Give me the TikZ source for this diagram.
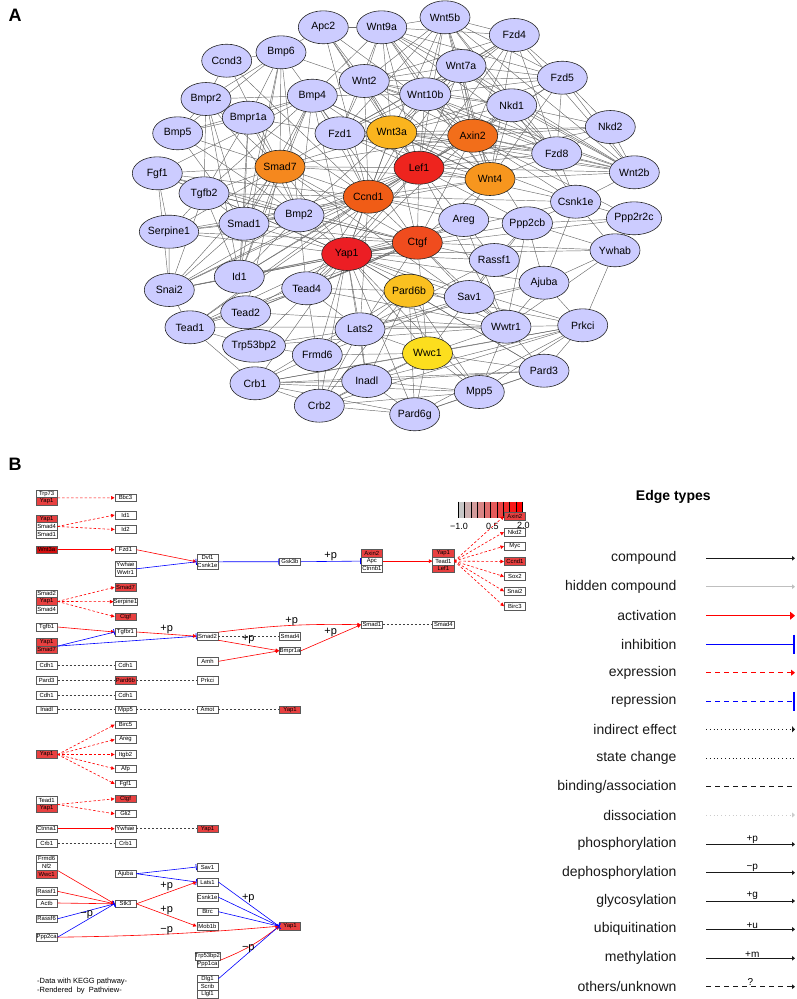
\documentclass[tikz,border=0pt]{standalone}
\usepackage{fontspec}
\setmainfont{Liberation Sans}
\usetikzlibrary{shapes.geometric,arrows.meta,backgrounds,calc}
\definecolor{lav}{RGB}{204,204,255}
\definecolor{cLef}{RGB}{238,36,30}
\definecolor{cYap}{RGB}{236,30,36}
\definecolor{cCtgf}{RGB}{240,76,30}
\definecolor{cCcnd}{RGB}{240,92,22}
\definecolor{cAxin}{RGB}{242,110,26}
\definecolor{cSmad}{RGB}{245,136,30}
\definecolor{cWntF}{RGB}{247,150,30}
\definecolor{cWntA}{RGB}{250,180,30}
\definecolor{cPard}{RGB}{250,192,32}
\definecolor{cWwc}{RGB}{252,222,30}
\definecolor{kred}{RGB}{232,64,64}
\definecolor{kdred}{RGB}{212,16,16}
\definecolor{kblue}{RGB}{0,0,255}
\colorlet{lowc}{black!22}
\tikzset{
 anode/.style={ellipse, draw=black!85, line width=0.6pt, minimum width=50pt, minimum height=33pt, inner sep=0pt, font=\fontsize{10.5}{12}\selectfont},
 aedge/.style={draw=black!58, line width=0.45pt},
 kb/.style={rectangle, draw=black!65, line width=0.5pt, fill=white, minimum width=21.3pt, minimum height=7.6pt, inner sep=0pt, font=\fontsize{5.9}{5.9}\selectfont},
 kr/.style={kb, fill=kred},
 kact/.style={draw=red, line width=0.6pt, -{Triangle[length=3.5pt,width=3.5pt]}},
 kexp/.style={kact, dash pattern=on 2.5pt off 2pt},
 kinh/.style={draw=kblue, line width=0.6pt, -{Bar[width=6pt,line width=0.8pt]}},
 kbind/.style={draw=black!75, line width=0.6pt, dash pattern=on 2pt off 2pt},
 plab/.style={font=\fontsize{11}{11}\selectfont, inner sep=0pt},
 legtext/.style={anchor=east, font=\fontsize{14}{14}\selectfont, text=black!90, inner sep=0pt},
 leglab/.style={font=\fontsize{10}{10}\selectfont, inner sep=0pt},
 panlab/.style={font=\bfseries\fontsize{18}{18}\selectfont, inner sep=0pt}
}
\begin{document}
\begin{tikzpicture}[x=1pt,y=-1pt]
\useasboundingbox (0,0) rectangle (796,999);
\node[panlab] (labA) at (15,15) {A};
\node[panlab] (labB) at (15,464) {B};
% ---------------- Panel A nodes
\foreach \n/\x/\y/\c in {
Apc2/323.3/27.3/lav, Wnt9a/381.7/27.3/lav, Wnt5b/445/17.3/lav, Ccnd3/226.7/60.7/lav,
Bmp6/281/52.3/lav, Fzd4/514.3/35/lav, Wnt7a/461/66/lav, Fzd5/562.3/77.7/lav,
Wnt2/364.3/81/lav, Wnt10b/425.3/94.3/lav, Nkd1/511.7/105.3/lav, Bmpr2/206/99/lav,
Bmp4/312.3/95.7/lav, Bmpr1a/248.3/117.7/lav, Nkd2/610.3/127/lav, Bmp5/177.7/133.3/lav,
Fzd1/340/133.3/lav, Wnt3a/391.7/132.3/cWntA, Axin2/472.7/135.7/cAxin, Fzd8/556.7/153.3/lav,
Wnt2b/634.3/172.3/lav, Smad7/280/166.7/cSmad, Lef1/419/167.7/cLef, Wnt4/490/179/cWntF,
Fgf1/157.3/173.3/lav, Tgfb2/204/193.3/lav, Ccnd1/368.3/196.7/cCcnd, Csnk1e/575.7/201.7/lav,
Ppp2r2c/634/218.3/lav, Bmp2/299/215.3/lav, Smad1/244/223.7/lav, Areg/463.7/220/lav,
Ppp2cb/527.3/223.3/lav, Serpine1/169/231.7/lav, Ctgf/417.3/242.7/cCtgf, Yap1/346.7/254/cYap,
Rassf1/494.3/260/lav, Ywhab/615/250.3/lav, Id1/239.3/276.7/lav, Snai2/169.3/290/lav,
Tead4/306.7/288.3/lav, Pard6b/409/290.7/cPard, Ajuba/544/282.7/lav, Sav1/469.3/297/lav,
Tead2/245.7/312.3/lav, Tead1/190/327.3/lav, Lats2/360/329.3/lav, Trp53bp2/254/345.7/lav,
Frmd6/317.3/355/lav, Wwc1/427.5/353.3/cWwc, Wwtr1/506/326.7/lav, Prkci/582.7/325.3/lav,
Crb1/255/383.3/lav, Inadl/366.7/381/lav, Pard3/544/370.7/lav, Crb2/319.3/405.7/lav,
Mpp5/479.3/392/lav, Pard6g/414.7/414.3/lav}
 \node[anode, fill=\c] (a-\n) at (\x,\y) {\n};
\begin{pgfonlayer}{background}
\foreach \u/\v in {
Yap1/Ctgf, Yap1/Tead1, Yap1/Tead2, Yap1/Tead4, Yap1/Lats2, Yap1/Sav1, Yap1/Wwtr1, Yap1/Wwc1, Yap1/Frmd6, Yap1/Ajuba, Yap1/Rassf1, Yap1/Ppp2cb, Yap1/Ywhab, Yap1/Prkci, Yap1/Pard3, Yap1/Pard6b, Yap1/Pard6g, Yap1/Mpp5, Yap1/Inadl, Yap1/Crb1, Yap1/Crb2, Yap1/Trp53bp2, Yap1/Areg, Yap1/Smad7, Yap1/Smad1, Yap1/Id1, Yap1/Snai2, Yap1/Ccnd1, Yap1/Lef1, Yap1/Axin2, Yap1/Wnt3a, Yap1/Bmp2, Yap1/Bmp4, Yap1/Csnk1e, Yap1/Serpine1, Yap1/Tgfb2, Yap1/Fgf1, Yap1/Ppp2r2c,
Ctgf/Tead1, Ctgf/Tead2, Ctgf/Tead4, Ctgf/Wwtr1, Ctgf/Smad7, Ctgf/Smad1, Ctgf/Serpine1, Ctgf/Tgfb2, Ctgf/Bmp2, Ctgf/Bmp4, Ctgf/Ccnd1, Ctgf/Lef1, Ctgf/Wnt3a, Ctgf/Id1, Ctgf/Snai2, Ctgf/Areg, Ctgf/Fgf1, Ctgf/Lats2, Ctgf/Sav1, Ctgf/Wwc1, Ctgf/Axin2, Ctgf/Wnt4, Ctgf/Ywhab, Ctgf/Rassf1,
Lef1/Wnt3a, Lef1/Wnt2, Lef1/Wnt10b, Lef1/Wnt7a, Lef1/Wnt5b, Lef1/Wnt9a, Lef1/Wnt4, Lef1/Wnt2b, Lef1/Fzd1, Lef1/Fzd4, Lef1/Fzd5, Lef1/Fzd8, Lef1/Axin2, Lef1/Apc2, Lef1/Nkd1, Lef1/Nkd2, Lef1/Ccnd1, Lef1/Csnk1e, Lef1/Smad7, Lef1/Smad1, Lef1/Bmp4, Lef1/Bmp2, Lef1/Snai2, Lef1/Id1, Lef1/Tead1, Lef1/Tead4, Lef1/Wwtr1, Lef1/Areg, Lef1/Ppp2cb,
Ccnd1/Wnt3a, Ccnd1/Axin2, Ccnd1/Wnt4, Ccnd1/Fzd1, Ccnd1/Bmp2, Ccnd1/Bmp4, Ccnd1/Smad7, Ccnd1/Smad1, Ccnd1/Tgfb2, Ccnd1/Fgf1, Ccnd1/Id1, Ccnd1/Snai2, Ccnd1/Serpine1, Ccnd1/Areg, Ccnd1/Wnt2, Ccnd1/Wnt10b, Ccnd1/Csnk1e, Ccnd1/Apc2, Ccnd1/Ccnd3, Ccnd1/Tead1, Ccnd1/Tead4, Ccnd1/Lats2, Ccnd1/Ppp2cb, Ccnd1/Bmpr1a, Ccnd1/Wnt7a,
Axin2/Wnt3a, Axin2/Wnt2, Axin2/Wnt10b, Axin2/Wnt7a, Axin2/Wnt5b, Axin2/Wnt9a, Axin2/Wnt4, Axin2/Wnt2b, Axin2/Fzd1, Axin2/Fzd4, Axin2/Fzd5, Axin2/Fzd8, Axin2/Apc2, Axin2/Nkd1, Axin2/Nkd2, Axin2/Csnk1e, Axin2/Ppp2cb, Axin2/Ppp2r2c, Axin2/Smad7,
Wnt3a/Wnt2, Wnt3a/Wnt10b, Wnt3a/Wnt7a, Wnt3a/Wnt5b, Wnt3a/Wnt9a, Wnt3a/Wnt4, Wnt3a/Wnt2b, Wnt3a/Fzd1, Wnt3a/Fzd4, Wnt3a/Fzd5, Wnt3a/Fzd8, Wnt3a/Nkd1, Wnt3a/Nkd2, Wnt3a/Apc2, Wnt3a/Bmp4, Wnt3a/Bmp2, Wnt3a/Smad7, Wnt3a/Csnk1e,
Wnt4/Wnt2, Wnt4/Wnt10b, Wnt4/Wnt7a, Wnt4/Wnt5b, Wnt4/Wnt9a, Wnt4/Wnt2b, Wnt4/Fzd1, Wnt4/Fzd4, Wnt4/Fzd5, Wnt4/Fzd8, Wnt4/Nkd1, Wnt4/Bmp4, Wnt4/Bmp2, Wnt4/Areg, Wnt4/Smad7,
Smad7/Smad1, Smad7/Bmpr1a, Smad7/Bmpr2, Smad7/Bmp4, Smad7/Bmp2, Smad7/Bmp6, Smad7/Bmp5, Smad7/Tgfb2, Smad7/Serpine1, Smad7/Id1, Smad7/Snai2, Smad7/Fgf1, Smad7/Wwtr1, Smad7/Ccnd3, Smad7/Fzd1, Smad7/Tead2,
Wnt2/Wnt10b, Wnt2/Wnt7a, Wnt2/Wnt5b, Wnt2/Wnt9a, Wnt2/Fzd1, Wnt2/Fzd4, Wnt2/Fzd5, Wnt2/Fzd8, Wnt2/Wnt2b, Wnt2/Nkd1, Wnt10b/Wnt7a, Wnt10b/Wnt5b, Wnt10b/Wnt9a, Wnt10b/Fzd1, Wnt10b/Fzd4, Wnt10b/Fzd5, Wnt10b/Fzd8, Wnt10b/Wnt2b, Wnt10b/Nkd1, Wnt7a/Wnt5b, Wnt7a/Wnt9a, Wnt7a/Fzd1, Wnt7a/Fzd4, Wnt7a/Fzd5, Wnt7a/Fzd8, Wnt7a/Wnt2b, Wnt7a/Nkd1, Wnt5b/Wnt9a, Wnt5b/Fzd1, Wnt5b/Fzd4, Wnt5b/Fzd5, Wnt5b/Fzd8, Wnt5b/Wnt2b, Wnt5b/Nkd1, Wnt9a/Fzd1, Wnt9a/Fzd4, Wnt9a/Fzd5, Wnt9a/Fzd8, Wnt9a/Wnt2b, Wnt2b/Fzd1, Wnt2b/Fzd4, Wnt2b/Fzd5, Wnt2b/Fzd8, Wnt2b/Nkd1, Wnt2b/Nkd2, Fzd1/Fzd4, Fzd1/Fzd8, Fzd4/Fzd5, Fzd5/Fzd8, Nkd1/Fzd8, Nkd2/Fzd5, Nkd2/Fzd8, Nkd1/Nkd2, Apc2/Wnt9a, Apc2/Wnt2, Apc2/Bmp6, Csnk1e/Nkd1, Csnk1e/Fzd8, Csnk1e/Wnt2b, Csnk1e/Ppp2cb, Csnk1e/Ppp2r2c, Csnk1e/Ywhab, Csnk1e/Ajuba, Wnt2/Bmp4, Wnt2/Bmp6, Bmp4/Wnt10b, Bmp4/Wnt9a, Fzd1/Bmpr1a, Fzd8/Fzd4,
Bmp4/Bmp6, Bmp4/Bmp2, Bmp4/Bmp5, Bmp4/Bmpr2, Bmp4/Bmpr1a, Bmp4/Smad1, Bmp4/Id1, Bmp4/Fgf1, Bmp4/Tgfb2, Bmp4/Fzd1, Bmp6/Bmpr2, Bmp6/Bmpr1a, Bmp6/Bmp2, Bmp6/Smad1, Bmp6/Bmp5, Bmp6/Ccnd3, Bmp6/Id1, Bmp2/Bmpr2, Bmp2/Bmpr1a, Bmp2/Smad1, Bmp2/Id1, Bmp2/Bmp5, Bmp2/Tgfb2, Bmp2/Fgf1, Bmp2/Snai2, Bmp2/Serpine1, Bmp5/Bmpr2, Bmp5/Bmpr1a, Bmp5/Smad1, Bmpr2/Bmpr1a, Bmpr2/Smad1, Bmpr2/Tgfb2, Bmpr2/Id1, Bmpr1a/Smad1, Bmpr1a/Tgfb2, Bmpr1a/Id1, Smad1/Id1, Smad1/Tgfb2, Smad1/Serpine1, Smad1/Snai2, Tgfb2/Serpine1, Tgfb2/Snai2, Tgfb2/Fgf1, Tgfb2/Id1, Fgf1/Serpine1, Fgf1/Snai2, Serpine1/Snai2, Id1/Snai2, Ccnd3/Bmpr2, Bmp2/Tead4,
Tead1/Tead2, Tead1/Tead4, Tead2/Tead4, Tead1/Wwtr1, Tead2/Wwtr1, Tead4/Wwtr1, Tead1/Snai2, Tead4/Lats2, Lats2/Sav1, Lats2/Wwc1, Lats2/Frmd6, Lats2/Ajuba, Lats2/Wwtr1, Lats2/Rassf1, Lats2/Trp53bp2, Lats2/Inadl, Lats2/Crb2, Sav1/Wwc1, Sav1/Frmd6, Sav1/Rassf1, Sav1/Wwtr1, Sav1/Ajuba, Wwc1/Frmd6, Wwc1/Wwtr1, Wwc1/Pard3, Wwc1/Pard6b, Wwc1/Pard6g, Wwc1/Prkci, Wwc1/Mpp5, Wwc1/Inadl, Wwc1/Crb1, Wwc1/Crb2, Wwtr1/Ywhab, Wwtr1/Ppp2cb, Wwtr1/Ajuba, Wwtr1/Prkci, Wwtr1/Pard3, Wwtr1/Mpp5, Wwtr1/Areg, Wwtr1/Trp53bp2, Ajuba/Ywhab, Ajuba/Prkci, Ajuba/Ppp2cb, Ywhab/Ppp2r2c, Ywhab/Prkci, Ywhab/Ppp2cb, Ppp2cb/Ppp2r2c, Ppp2cb/Rassf1, Ppp2cb/Sav1, Prkci/Pard3, Prkci/Pard6b, Prkci/Pard6g, Prkci/Mpp5, Prkci/Inadl, Prkci/Crb1, Prkci/Crb2, Pard3/Pard6b, Pard3/Pard6g, Pard3/Mpp5, Pard3/Inadl, Pard3/Crb1, Pard6b/Pard6g, Pard6b/Mpp5, Pard6b/Inadl, Pard6b/Crb1, Pard6b/Crb2, Pard6b/Lats2, Pard6b/Sav1, Pard6b/Tead4, Pard6g/Mpp5, Pard6g/Inadl, Pard6g/Crb1, Pard6g/Crb2, Mpp5/Inadl, Mpp5/Crb1, Mpp5/Crb2, Inadl/Crb1, Inadl/Crb2, Crb1/Crb2, Crb1/Frmd6, Crb2/Frmd6, Frmd6/Tead4, Trp53bp2/Tead2, Trp53bp2/Tead1, Trp53bp2/Frmd6, Areg/Rassf1, Areg/Tead4, Tead1/Crb1}
 \draw[aedge] (a-\u) -- (a-\v);
\end{pgfonlayer}
% ---------------- Panel B colour bar
\foreach \i in {0,...,9} {
 \pgfmathtruncatemacro{\p}{\i*100/9}
 \pgfmathsetmacro{\xa}{458.3+\i*6.44}
 \fill[red!\p!lowc] (\xa,501.7) rectangle ++(6.44,16.6);
}
\foreach \i in {0,...,10} \draw[black, line width=0.7pt] ({458.3+\i*6.44},501.7) -- ++(0,16.6);
% ---------------- Panel B boxes
\def\ca{46.65} \def\cb{125.5} \def\cc{207.5} \def\cd{290} \def\ce{371.85} \def\cf{443.35} \def\cg{514.85}
\node[kb] (b-trp73) at (\ca,493.85) {Trp73};
\node[kr] (b-yapA) at (\ca,501.45) {Yap1};
\node[kb] (b-bbc3) at (\cb,497.8) {Bbc3};
\node[kr] (b-yapB) at (\ca,518.85) {Yap1};
\node[kb] (b-smad4B) at (\ca,526.45) {Smad4};
\node[kb] (b-smad1B) at (\ca,534.05) {Smad1};
\node[kb] (b-id1) at (\cb,515) {Id1};
\node[kb] (b-id2) at (\cb,529.5) {Id2};
\node[kb, fill=kdred] (b-wnt3a) at (\ca,549.7) {Wnt3a};
\node[kb] (b-fzd1) at (\cb,549.7) {Fzd1};
\node[kb] (b-ywhae) at (\cb,564.75) {Ywhae};
\node[kb] (b-wwtr1) at (\cb,572.35) {Wwtr1};
\node[kb] (b-dvl1) at (\cc,557.75) {Dvl1};
\node[kb] (b-csnk1e) at (\cc,565.35) {Csnk1e};
\node[kb] (b-gsk3b) at (\cd,561.7) {Gsk3b};
\node[kr] (b-axin2) at (\ce,553.5) {Axin2};
\node[kb] (b-apc) at (\ce,561.1) {Apc};
\node[kb] (b-ctnnb1) at (\ce,568.7) {Ctnnb1};
\node[kr] (b-yapC) at (\cf,553.5) {Yap1};
\node[kb] (b-tead1C) at (\cf,561.1) {Tead1};
\node[kr] (b-lef1) at (\cf,568.7) {Lef1};
\node[kr] (b-axin2T) at (\cg,516.2) {Axin2};
\node[kb] (b-nkd2) at (\cg,532) {Nkd2};
\node[kb] (b-myc) at (\cg,546.2) {Myc};
\node[kr] (b-ccnd1) at (\cg,561.5) {Ccnd1};
\node[kb] (b-sox2) at (\cg,576.5) {Sox2};
\node[kb] (b-snai2) at (\cg,591.3) {Snai2};
\node[kb] (b-birc3) at (\cg,606.2) {Birc3};
\node[kb] (b-smad2D) at (\ca,593.85) {Smad2};
\node[kr] (b-yapD) at (\ca,601.45) {Yap1};
\node[kb] (b-smad4D) at (\ca,609.05) {Smad4};
\node[kr] (b-smad7T) at (\cb,587.2) {Smad7};
\node[kb] (b-serp) at (\cb,601.7) {Serpine1};
\node[kr] (b-ctgfT) at (\cb,616.7) {Ctgf};
\node[kb] (b-tgfb1) at (\ca,627) {Tgfb1};
\node[kb] (b-tgfbr1) at (\cb,632) {Tgfbr1};
\node[kr] (b-yapE) at (\ca,642.05) {Yap1};
\node[kr] (b-smad7E) at (\ca,649.65) {Smad7};
\node[kb] (b-smad2) at (\cc,636.2) {Smad2};
\node[kb] (b-smad4E) at (\cd,636.2) {Smad4};
\node[kb] (b-bmpr1a) at (\cd,650.8) {Bmpr1a};
\node[kb] (b-amh) at (\cc,661.3) {Amh};
\node[kb] (b-smad1) at (\ce,624.7) {Smad1};
\node[kb] (b-smad4F) at (\cf,624.7) {Smad4};
\node[kb] (b-cdh1a) at (\ca,665) {Cdh1};
\node[kb] (b-cdh1b) at (\cb,665) {Cdh1};
\node[kb] (b-pard3) at (\ca,680) {Pard3};
\node[kr] (b-pard6b) at (\cb,680) {Pard6b};
\node[kb] (b-prkci) at (\cc,680) {Prkci};
\node[kb] (b-cdh1c) at (\ca,695) {Cdh1};
\node[kb] (b-cdh1d) at (\cb,695) {Cdh1};
\node[kb] (b-inadl) at (\ca,709.7) {Inadl};
\node[kb] (b-mpp5) at (\cb,709.7) {Mpp5};
\node[kb] (b-amot) at (\cc,709.7) {Amot};
\node[kr] (b-yapF) at (\cd,709.7) {Yap1};
\node[kr] (b-yapG) at (\ca,754.5) {Yap1};
\node[kb] (b-birc5) at (\cb,724.7) {Birc5};
\node[kb] (b-areg) at (\cb,739.5) {Areg};
\node[kb] (b-itgb2) at (\cb,754.5) {Itgb2};
\node[kb] (b-afp) at (\cb,768.8) {Afp};
\node[kb] (b-fgf1) at (\cb,783.8) {Fgf1};
\node[kb] (b-tead1H) at (\ca,800.45) {Tead1};
\node[kr] (b-yapH) at (\ca,808.05) {Yap1};
\node[kr] (b-ctgfH) at (\cb,798.8) {Ctgf};
\node[kb] (b-gli2) at (\cb,813.8) {Gli2};
\node[kb] (b-ctnna1) at (\ca,828.7) {Ctnna1};
\node[kb] (b-ywhaeI) at (\cb,828.7) {Ywhae};
\node[kr] (b-yapI) at (\cc,828.7) {Yap1};
\node[kb] (b-crb1a) at (\ca,843.5) {Crb1};
\node[kb] (b-crb1b) at (\cb,843.5) {Crb1};
\node[kb] (b-frmd6) at (\ca,858.8) {Frmd6};
\node[kb] (b-nf2) at (\ca,866.4) {Nf2};
\node[kr] (b-wwc1) at (\ca,874) {Wwc1};
\node[kb] (b-ajuba) at (\cb,873.7) {Ajuba};
\node[kb] (b-sav1) at (\cc,867) {Sav1};
\node[kb] (b-lats1) at (\cc,882) {Lats1};
\node[kb] (b-rassf1) at (\ca,891.3) {Rassf1};
\node[kb] (b-actb) at (\ca,903) {Actb};
\node[kb] (b-stk3) at (\cb,903.8) {Stk3};
\node[kb] (b-csnk1eJ) at (\cc,897.2) {Csnk1e};
\node[kb] (b-btrc) at (\cc,911.7) {Btrc};
\node[kb] (b-rassf6) at (\ca,918.8) {Rassf6};
\node[kb] (b-mob1b) at (\cc,926.2) {Mob1b};
\node[kr] (b-yapJ) at (\cd,926.2) {Yap1};
\node[kb] (b-ppp2ca) at (\ca,937.2) {Ppp2ca};
\node[kb] (b-trp53) at (\cc,956.15) {Trp53bp2};
\node[kb] (b-ppp1ca) at (\cc,963.75) {Ppp1ca};
\node[kb] (b-dlg1) at (\cc,978.75) {Dlg1};
\node[kb] (b-scrib) at (\cc,986.35) {Scrib};
\node[kb] (b-llgl1) at (\cc,993.95) {Llgl1};
% colour bar labels
\node[font=\fontsize{9}{9}\selectfont, inner sep=0pt] (cbl1) at (459,526.5) {−1.0};
\node[font=\fontsize{9}{9}\selectfont, inner sep=0pt] (cbl2) at (492.3,526.5) {0.5};
\node[font=\fontsize{9}{9}\selectfont, inner sep=0pt] (cbl3) at (523.3,525.5) {2.0};
% ---------------- Panel B connectors
\draw[kexp] (b-trp73.south east) -- (b-bbc3.west);
\draw[kexp] (b-smad4B.east) -- (b-id1.west);
\draw[kexp] (b-smad4B.east) -- (b-id2.west);
\draw[kact] (b-wnt3a.east) -- (b-fzd1.west);
\draw[kact] (b-fzd1.east) -- (b-dvl1.south west);
\draw[kinh] (b-ywhae.south east) -- (b-dvl1.south west);
\draw[kinh] (b-dvl1.south east) -- (b-gsk3b.west);
\draw[kinh] (b-gsk3b.east) -- (b-apc.west);
\draw[kact] (b-apc.east) -- (b-tead1C.west);
\foreach \t in {axin2T,nkd2,myc,ccnd1,sox2,snai2,birc3}
 \draw[kexp] (b-tead1C.east) -- (b-\t.west);
\foreach \t in {smad7T,serp,ctgfT}
 \draw[kexp] (b-yapD.east) -- (b-\t.west);
\draw[kact] (b-tgfb1.east) -- (b-tgfbr1.west);
\draw[kinh] (b-yapE.south east) -- (b-tgfbr1.west);
\draw[kinh] (b-yapE.south east) -- (b-smad2.west);
\draw[kact] (b-tgfbr1.east) -- (b-smad2.west);
\draw[kbind] (b-smad2.east) -- (b-smad4E.west);
\draw[kact] (b-smad2.north east) to[bend left=4] (b-smad1.west);
\draw[kact] (b-smad2.south east) -- (b-bmpr1a.west);
\draw[kact] (b-amh.east) -- (b-bmpr1a.west);
\draw[kact] (b-bmpr1a.east) -- (b-smad1.west);
\draw[kbind] (b-smad1.east) -- (b-smad4F.west);
\draw[kbind] (b-cdh1a) -- (b-cdh1b);
\draw[kbind] (b-pard3) -- (b-pard6b);
\draw[kbind] (b-pard6b) -- (b-prkci);
\draw[kbind] (b-cdh1c) -- (b-cdh1d);
\draw[kbind] (b-inadl) -- (b-mpp5);
\draw[kbind] (b-mpp5) -- (b-amot);
\draw[kbind] (b-amot) -- (b-yapF);
\foreach \t in {birc5,areg,itgb2,afp,fgf1}
 \draw[kexp] (b-yapG.east) -- (b-\t.west);
\draw[kexp] (b-tead1H.south east) -- (b-ctgfH.west);
\draw[kexp] (b-tead1H.south east) -- (b-gli2.west);
\draw[kact] (b-ctnna1.east) -- (b-ywhaeI.west);
\draw[kbind] (b-ywhaeI) -- (b-yapI);
\draw[kbind] (b-crb1a) -- (b-crb1b);
\draw[kact] (b-nf2.south east) -- (b-stk3.west);
\draw[kact] (b-rassf1.east) -- (b-stk3.west);
\draw[kact] (b-actb.east) -- (b-stk3.west);
\draw[kinh] (b-rassf6.east) -- (b-stk3.west);
\draw[kinh] (b-ppp2ca.east) -- (b-stk3.west);
\draw[kact] (b-ppp2ca.east) to[bend right=2] (b-yapJ.west);
\draw[kinh] (b-ajuba.east) -- (b-sav1.west);
\draw[kinh] (b-ajuba.east) -- (b-lats1.west);
\draw[kact] (b-stk3.east) -- (b-lats1.west);
\draw[kact] (b-stk3.east) -- (b-mob1b.west);
\draw[kinh] (b-lats1.east) -- (b-yapJ.west);
\draw[kinh] (b-csnk1eJ.east) -- (b-yapJ.west);
\draw[kinh] (b-btrc.east) -- (b-yapJ.west);
\draw[kact] (b-trp53.south east) to[bend right=8] (b-yapJ.west);
\draw[kinh] (b-dlg1.east) -- (b-yapJ.west);
% edge labels
\node[plab] (p1) at (330.7,556) {+p};
\node[plab] (p2) at (166.7,629) {+p};
\node[plab] (p3) at (291.7,621.7) {+p};
\node[plab] (p4) at (248.3,639.3) {+p};
\node[plab] (p5) at (330.7,632.7) {+p};
\node[plab] (p6) at (86.7,915) {−p};
\node[plab] (p7) at (166.7,886) {+p};
\node[plab] (p8) at (166.7,910) {+p};
\node[plab] (p9) at (248.3,898.3) {+p};
\node[plab] (p10) at (166.7,931) {−p};
\node[plab] (p11) at (248.3,948.3) {−p};
\node[anchor=west, font=\fontsize{7.5}{7.5}\selectfont, inner sep=0pt] (kegg1) at (37,981.7) {-Data with KEGG pathway-};
\node[anchor=west, font=\fontsize{7.5}{7.5}\selectfont, inner sep=0pt] (kegg2) at (37,990.5) {-Rendered\ \ by\ \ Pathview-};
% ---------------- Legend
\node[font=\bfseries\fontsize{14}{14}\selectfont, inner sep=0pt] (legtitle) at (673.3,497.3) {Edge types};
\foreach \i/\y/\t in {1/558.3/compound, 2/586.7/hidden compound, 3/615.7/activation, 4/644/inhibition, 5/672.7/expression, 6/701/repression, 7/729.3/indirect effect, 8/758.3/state change, 9/786.7/{binding/association}, 10/815/dissociation, 11/844.3/phosphorylation, 12/872.7/dephosphorylation, 13/901/glycosylation, 14/929.3/ubiquitination, 15/958.3/methylation, 16/986.7/{others/unknown}} {
 \node[legtext] (lt\i) at (676.7,\y) {\t};
 \coordinate (ls\i) at (706,\y);
 \coordinate (le\i) at (795,\y);
}
\draw[draw=black!90, line width=0.8pt, -{Triangle[length=3pt,width=4.5pt]}] (ls1) -- (le1);
\draw[draw=black!25, line width=0.8pt, -{Triangle[length=3pt,width=4.5pt]}] (ls2) -- (le2);
\draw[draw=red, line width=0.9pt, -{Triangle[length=5pt,width=8pt]}] (ls3) -- (le3);
\draw[draw=kblue, line width=0.9pt, -{Bar[width=19pt,line width=1.8pt]}] (ls4) -- (le4);
\draw[draw=red, line width=0.9pt, dash pattern=on 5pt off 4pt, -{Triangle[length=4pt,width=6pt]}] (ls5) -- (le5);
\draw[draw=kblue, line width=1pt, dash pattern=on 5pt off 4pt, -{Bar[width=19pt,line width=1.8pt]}] (ls6) -- (le6);
\draw[draw=black!90, line width=0.8pt, dash pattern=on 0.8pt off 3pt, -{Triangle[length=3pt,width=6pt]}] (ls7) -- (le7);
\draw[draw=black!90, line width=0.8pt, dash pattern=on 0.8pt off 3pt] (ls8) -- (le8);
\draw[draw=black!90, line width=0.8pt, dash pattern=on 5pt off 4pt] (ls9) -- (le9);
\draw[draw=black!20, line width=0.8pt, dash pattern=on 0.8pt off 3pt, -{Triangle[length=3pt,width=5pt]}] (ls10) -- (le10);
\foreach \i/\l in {11/+p, 12/−p, 13/+g, 14/+u, 15/+m} {
 \draw[draw=black!90, line width=0.8pt, -{Triangle[length=3pt,width=4.5pt]}] (ls\i) -- (le\i);
 \node[leglab, anchor=south] (ll\i) at ([yshift=1pt]$(ls\i)!0.52!(le\i)$) {\l};
}
\draw[draw=black!90, line width=0.8pt, dash pattern=on 5pt off 4pt, -{Triangle[length=3pt,width=4.5pt]}] (ls16) -- (le16);
\node[leglab, anchor=south] (ll16) at ([yshift=1pt]$(ls16)!0.5!(le16)$) {?};
\end{tikzpicture}
\end{document}
